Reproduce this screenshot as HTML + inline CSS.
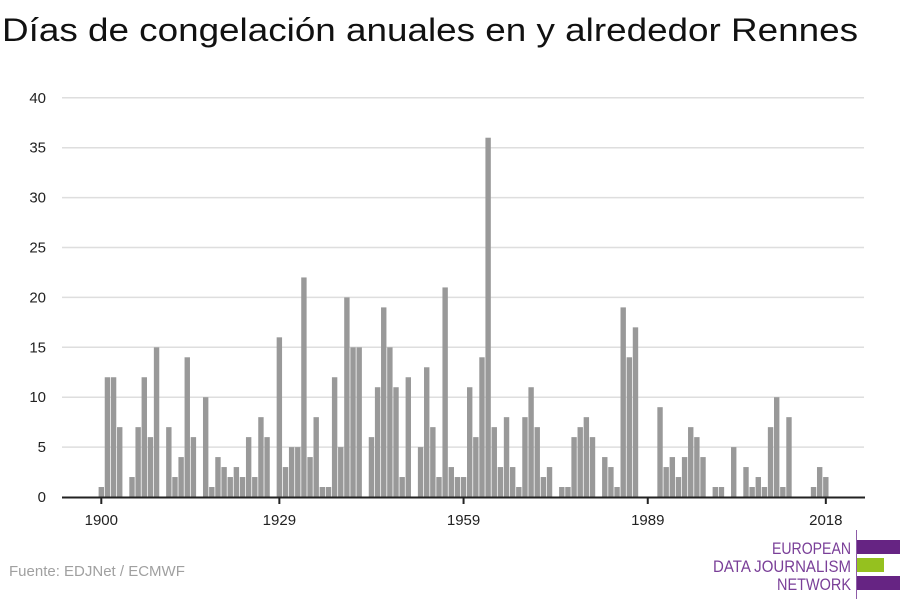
<!DOCTYPE html>
<html><head><meta charset="utf-8">
<style>
body{margin:0;background:#fff;width:900px;height:600px;overflow:hidden;font-family:"Liberation Sans",sans-serif}
</style></head>
<body>
<svg id="chart" width="900" height="600" xmlns="http://www.w3.org/2000/svg">
<text x="2" y="41" font-size="32" fill="#111" textLength="856" lengthAdjust="spacingAndGlyphs">Días de congelación anuales en y alrededor Rennes</text>
<g id="grid"></g><g id="bars"></g><g id="xaxis"></g>
<text x="9" y="576" font-size="15" fill="#a0a0a0">Fuente: EDJNet / ECMWF</text>
<g>
<line x1="856.5" y1="530" x2="856.5" y2="599" stroke="#8e5ca8" stroke-width="1"/>
<rect x="857" y="540" width="43" height="14" fill="#662483"/>
<rect x="857" y="558" width="27" height="14" fill="#95c11f"/>
<rect x="857" y="576" width="43" height="14" fill="#662483"/>
<text x="851" y="554" font-size="17" fill="#7a3f98" text-anchor="end" textLength="79" lengthAdjust="spacingAndGlyphs">EUROPEAN</text>
<text x="851" y="572" font-size="17" fill="#7a3f98" text-anchor="end" textLength="138" lengthAdjust="spacingAndGlyphs">DATA JOURNALISM</text>
<text x="851" y="590" font-size="17" fill="#7a3f98" text-anchor="end" textLength="74" lengthAdjust="spacingAndGlyphs">NETWORK</text>
</g>
</svg>
<script>
const firstYear = 1900;
const values = [1,12,12,7,0,2,7,12,6,15,0,7,2,4,14,6,0,10,1,4,3,2,3,2,6,2,8,6,0,16,3,5,5,22,4,8,1,1,12,5,20,15,15,0,6,11,19,15,11,2,12,0,5,13,7,2,21,3,2,2,11,6,14,36,7,3,8,3,1,8,11,7,2,3,0,1,1,6,7,8,6,0,4,3,1,19,14,17,0,0,0,9,3,4,2,4,7,6,4,0,1,1,0,5,0,3,1,2,1,7,10,1,8,0,0,0,1,3,2];
const yTicks = [0,5,10,15,20,25,30,35,40];
const xTicks = [1900,1929,1959,1989,2018];
const NS="http://www.w3.org/2000/svg";
const x = yr => 101.3 + (yr-1900)*6.14;
const y = v => 497 - v*9.98;
function mk(tag, attrs, parent){const e=document.createElementNS(NS,tag);for(const k in attrs)e.setAttribute(k,attrs[k]);parent.appendChild(e);return e;}
const grid=document.getElementById('grid');
yTicks.forEach(t=>{
  if(t>0){const l=mk('line',{x1:62,x2:864,y1:y(t),y2:y(t),stroke:'#dedede','stroke-width':1.5},grid);
  
  }
  const tx=mk('text',{x:46,y:y(t)+5,'font-size':15,'text-anchor':'end',fill:'#222'},grid);
  tx.textContent=t;
  
  
});
const bars=document.getElementById('bars');
values.forEach((v,i)=>{
  if(v<=0)return;
  const r=mk('rect',{x:x(firstYear+i)-2.7,y:y(v),width:5.4,height:y(0)-y(v),fill:'#999'},bars);
  
  
});
const xa=document.getElementById('xaxis');
const ax=mk('line',{x1:62,x2:865,y1:497.5,y2:497.5,stroke:'#222','stroke-width':2},xa);


xTicks.forEach(t=>{
  const tk=mk('line',{x1:x(t),x2:x(t),y1:497,y2:504,stroke:'#222','stroke-width':2},xa);
  
  
  const tx=mk('text',{x:x(t),y:525,'font-size':15,'text-anchor':'middle',fill:'#222'},xa);
  tx.textContent=t;
  
  
});
</script>
</body></html>
